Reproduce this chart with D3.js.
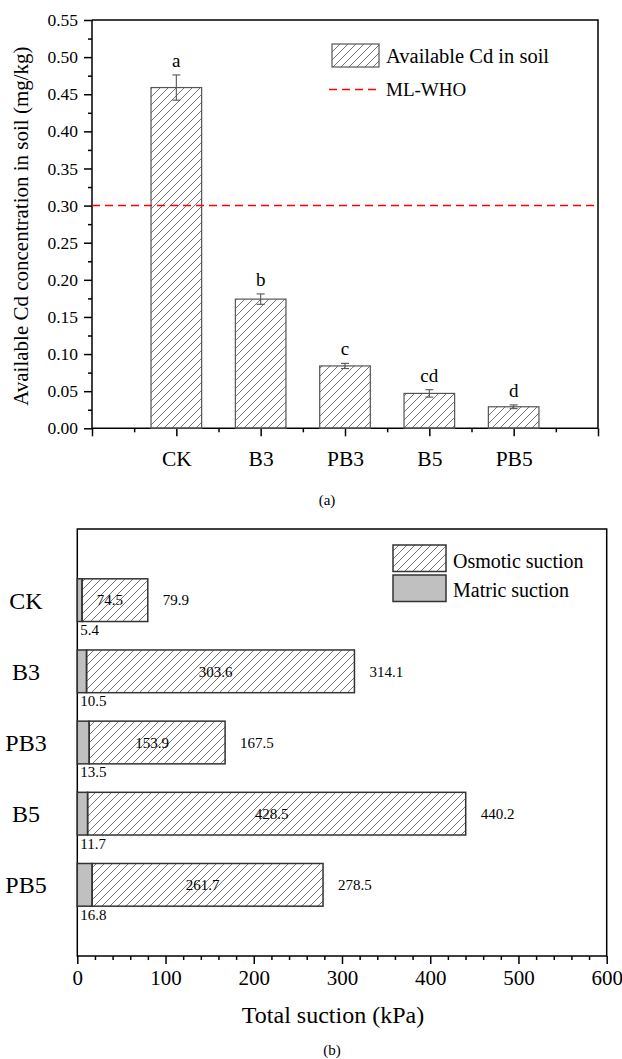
<!DOCTYPE html>
<html>
<head>
<meta charset="utf-8">
<script src="https://cdn.jsdelivr.net/npm/d3@7"></script>
<style>
  body { margin: 0; background: #fff; }
  svg { display: block; font-family: "Liberation Serif", "Times New Roman", serif; }
  .axis path, .axis line { stroke: #000; stroke-width: 1.5; }
  .axis text { font-family: "Liberation Serif", serif; fill: #000; }
</style>
</head>
<body>
<svg id="chart" width="622" height="1059"></svg>
<script>
// panel (a) data
var catsA = ["CK", "B3", "PB3", "B5", "PB5"];
var cdMean = [0.459, 0.174, 0.084, 0.047, 0.029];
var cdErr = [0.017, 0.007, 0.0035, 0.005, 0.0025];
var sigLetters = ["a", "b", "c", "cd", "d"];
var whoLimit = 0.30;
var yTicksA = [0, 0.05, 0.10, 0.15, 0.20, 0.25, 0.30, 0.35, 0.40, 0.45, 0.50, 0.55];

// panel (b) data
var catsB = ["CK", "B3", "PB3", "B5", "PB5"];
var matric = [5.4, 10.5, 13.5, 11.7, 16.8];
var osmotic = [74.5, 303.6, 153.9, 428.5, 261.7];
var total = [79.9, 314.1, 167.5, 440.2, 278.5];
var xTicksB = [0, 100, 200, 300, 400, 500, 600];

var svg = d3.select("#chart");

// hatch pattern
var defs = svg.append("defs");
defs.append("pattern")
    .attr("id", "hatch")
    .attr("patternUnits", "userSpaceOnUse")
    .attr("width", 8).attr("height", 8)
  .append("path")
    .attr("d", "M0,8 L8,0 M-2,2 L2,-2 M6,10 L10,6")
    .attr("stroke", "#555")
    .attr("stroke-width", 0.8);

// ---------- panel (a) ----------
var ax = d3.scaleLinear().domain([0, 6]).range([92, 598]);
var ay = d3.scaleLinear().domain([0, 0.55]).range([428.3, 20]);
var barW = (ax(1) - ax(0)) * 0.6;

var ga = svg.append("g");

// frame top/right
ga.append("path")
    .attr("d", "M" + ax(0) + "," + ay(0.55) + "H" + ax(6) + "V" + ay(0))
    .attr("fill", "none").attr("stroke", "#000").attr("stroke-width", 1.5);

// minor y ticks
ga.append("g").attr("class", "axis")
    .attr("transform", "translate(" + ax(0) + ",0)")
    .call(d3.axisLeft(ay).tickValues(d3.range(0.025, 0.55, 0.05)).tickSize(4).tickFormat(""))
    .call(function(g){ g.select(".domain").remove(); });

ga.append("g").attr("class", "axis")
    .attr("transform", "translate(" + ax(0) + ",0)")
    .call(d3.axisLeft(ay).tickValues(yTicksA).tickSize(8).tickPadding(6).tickFormat(d3.format(".2f")))
    .call(function(g){ g.select(".domain").attr("d", "M0," + ay(0) + "V" + ay(0.55)); })
    .selectAll("text").style("font-size", "17.5px");

// x axis
ga.append("g").attr("class", "axis")
    .attr("transform", "translate(0," + ay(0) + ")")
    .call(d3.axisBottom(ax).tickValues(d3.range(0.5, 6, 1)).tickSize(4).tickFormat(""))
    .call(function(g){ g.select(".domain").remove(); });

ga.append("g").attr("class", "axis")
    .attr("transform", "translate(0," + ay(0) + ")")
    .call(d3.axisBottom(ax).tickValues([0, 1, 2, 3, 4, 5, 6]).tickSize(8).tickPadding(14)
      .tickFormat(function(d){ return catsA[d - 1] || ""; }))
    .call(function(g){ g.select(".domain").attr("d", "M" + ax(0) + ",0H" + ax(6)); })
    .selectAll("text").style("font-size", "21.5px");

// bars
ga.selectAll("rect.bar").data(cdMean).enter().append("rect")
    .attr("class", "bar")
    .attr("x", function(d, i){ return ax(i + 1) - barW / 2; })
    .attr("y", function(d){ return ay(d); })
    .attr("width", barW)
    .attr("height", function(d){ return ay(0) - ay(d); })
    .attr("fill", "url(#hatch)")
    .attr("stroke", "#555").attr("stroke-width", 1.2);

// error bars
var eb = ga.selectAll("g.err").data(cdMean).enter().append("g").attr("class", "err")
    .attr("stroke", "#555").attr("stroke-width", 1.1);
eb.append("line")
    .attr("x1", function(d, i){ return ax(i + 1); })
    .attr("x2", function(d, i){ return ax(i + 1); })
    .attr("y1", function(d, i){ return ay(d + cdErr[i]); })
    .attr("y2", function(d, i){ return ay(d - cdErr[i]); });
[1, -1].forEach(function(s){
  eb.append("line")
    .attr("x1", function(d, i){ return ax(i + 1) - 4; })
    .attr("x2", function(d, i){ return ax(i + 1) + 4; })
    .attr("y1", function(d, i){ return ay(d + s * cdErr[i]); })
    .attr("y2", function(d, i){ return ay(d + s * cdErr[i]); });
});

// significance letters
ga.selectAll("text.sig").data(cdMean).enter().append("text")
    .attr("class", "sig")
    .attr("x", function(d, i){ return ax(i + 1); })
    .attr("y", function(d, i){ return ay(d + cdErr[i]) - 8; })
    .attr("text-anchor", "middle")
    .style("font-size", "19px")
    .text(function(d, i){ return sigLetters[i]; });

// WHO line
ga.append("line")
    .attr("x1", ax(0)).attr("x2", ax(6))
    .attr("y1", ay(whoLimit)).attr("y2", ay(whoLimit))
    .attr("stroke", "#f00").attr("stroke-width", 1.5)
    .attr("stroke-dasharray", "8,5");

// y title
ga.append("text")
    .attr("transform", "translate(28," + ((ay(0) + ay(0.55)) / 2 + 2) + ") rotate(-90)")
    .attr("text-anchor", "middle")
    .style("font-size", "21px")
    .text("Available Cd concentration in soil (mg/kg)");

// legend a
ga.append("rect").attr("x", 332).attr("y", 44).attr("width", 47).attr("height", 23)
    .attr("fill", "url(#hatch)").attr("stroke", "#555").attr("stroke-width", 1.2);
ga.append("text").attr("x", 386).attr("y", 62.5).style("font-size", "20.5px").text("Available Cd in soil");
ga.append("line").attr("x1", 329).attr("x2", 379).attr("y1", 89.5).attr("y2", 89.5)
    .attr("stroke", "#f00").attr("stroke-width", 1.5).attr("stroke-dasharray", "8,5");
ga.append("text").attr("x", 386).attr("y", 96).style("font-size", "19px").text("ML-WHO");

svg.append("text").attr("x", 327).attr("y", 505).attr("text-anchor", "middle")
    .style("font-size", "15px").text("(a)");

// ---------- panel (b) ----------
var bx = d3.scaleLinear().domain([0, 600]).range([77.3, 606.7]);
var by = d3.scaleLinear().domain([0, 6]).range([529, 956]);
var barH = (by(1) - by(0)) * 0.6;

var gb = svg.append("g");

gb.append("rect")
    .attr("x", bx(0)).attr("y", by(0))
    .attr("width", bx(600) - bx(0)).attr("height", by(6) - by(0))
    .attr("fill", "none").attr("stroke", "#000").attr("stroke-width", 1.5);

gb.append("g").attr("class", "axis")
    .attr("transform", "translate(0," + by(6) + ")")
    .call(d3.axisBottom(bx).tickValues(d3.range(20, 600, 20).filter(function(v){ return v % 100 !== 0; }))
      .tickSize(4).tickFormat(""))
    .call(function(g){ g.select(".domain").remove(); });

gb.append("g").attr("class", "axis")
    .attr("transform", "translate(0," + by(6) + ")")
    .call(d3.axisBottom(bx).tickValues(xTicksB).tickSize(8).tickPadding(6).tickFormat(d3.format("d")))
    .call(function(g){ g.select(".domain").remove(); })
    .selectAll("text").style("font-size", "21px");

// category labels
gb.selectAll("text.cat").data(catsB).enter().append("text")
    .attr("class", "cat")
    .attr("x", 26)
    .attr("y", function(d, i){ return by(i + 1); })
    .attr("dy", "0.35em")
    .attr("text-anchor", "middle")
    .style("font-size", "24px")
    .text(function(d){ return d; });

// matric bars
gb.selectAll("rect.mat").data(matric).enter().append("rect")
    .attr("class", "mat")
    .attr("x", bx(0))
    .attr("y", function(d, i){ return by(i + 1) - barH / 2; })
    .attr("width", function(d){ return bx(d) - bx(0); })
    .attr("height", barH)
    .attr("fill", "#c0c0c0").attr("stroke", "#333").attr("stroke-width", 1.5);

// osmotic bars
gb.selectAll("rect.osm").data(osmotic).enter().append("rect")
    .attr("class", "osm")
    .attr("x", function(d, i){ return bx(matric[i]); })
    .attr("y", function(d, i){ return by(i + 1) - barH / 2; })
    .attr("width", function(d, i){ return bx(total[i]) - bx(matric[i]); })
    .attr("height", barH)
    .attr("fill", "url(#hatch)").attr("stroke", "#333").attr("stroke-width", 1.5);

gb.selectAll("text.osmv").data(osmotic).enter().append("text")
    .attr("class", "osmv")
    .attr("x", function(d, i){ return (bx(matric[i]) + bx(total[i])) / 2 - 5; })
    .attr("y", function(d, i){ return by(i + 1); })
    .attr("dy", "0.35em").attr("text-anchor", "middle")
    .style("font-size", "15px")
    .text(function(d){ return d.toFixed(1); });

gb.selectAll("text.totv").data(total).enter().append("text")
    .attr("class", "totv")
    .attr("x", function(d){ return bx(d) + 15; })
    .attr("y", function(d, i){ return by(i + 1); })
    .attr("dy", "0.35em")
    .style("font-size", "15px")
    .text(function(d){ return d.toFixed(1); });

gb.selectAll("text.matv").data(matric).enter().append("text")
    .attr("class", "matv")
    .attr("x", bx(0) + 3)
    .attr("y", function(d, i){ return by(i + 1) + barH / 2 + 13.5; })
    .style("font-size", "15px")
    .text(function(d){ return d.toFixed(1); });

// legend b
gb.append("rect").attr("x", 393).attr("y", 545).attr("width", 53).attr("height", 26.5)
    .attr("fill", "url(#hatch)").attr("stroke", "#333").attr("stroke-width", 1.5);
gb.append("rect").attr("x", 393).attr("y", 575).attr("width", 53).attr("height", 26.5)
    .attr("fill", "#c0c0c0").attr("stroke", "#333").attr("stroke-width", 1.5);
gb.append("text").attr("x", 453).attr("y", 560.5).attr("dy", "0.35em")
    .style("font-size", "20px").text("Osmotic suction");
gb.append("text").attr("x", 453).attr("y", 590).attr("dy", "0.35em")
    .style("font-size", "20px").text("Matric suction");

gb.append("text").attr("x", 333).attr("y", 1023).attr("text-anchor", "middle")
    .style("font-size", "24px").text("Total suction (kPa)");

svg.append("text").attr("x", 332).attr("y", 1055).attr("text-anchor", "middle")
    .style("font-size", "15px").text("(b)");
</script>
</body>
</html>
